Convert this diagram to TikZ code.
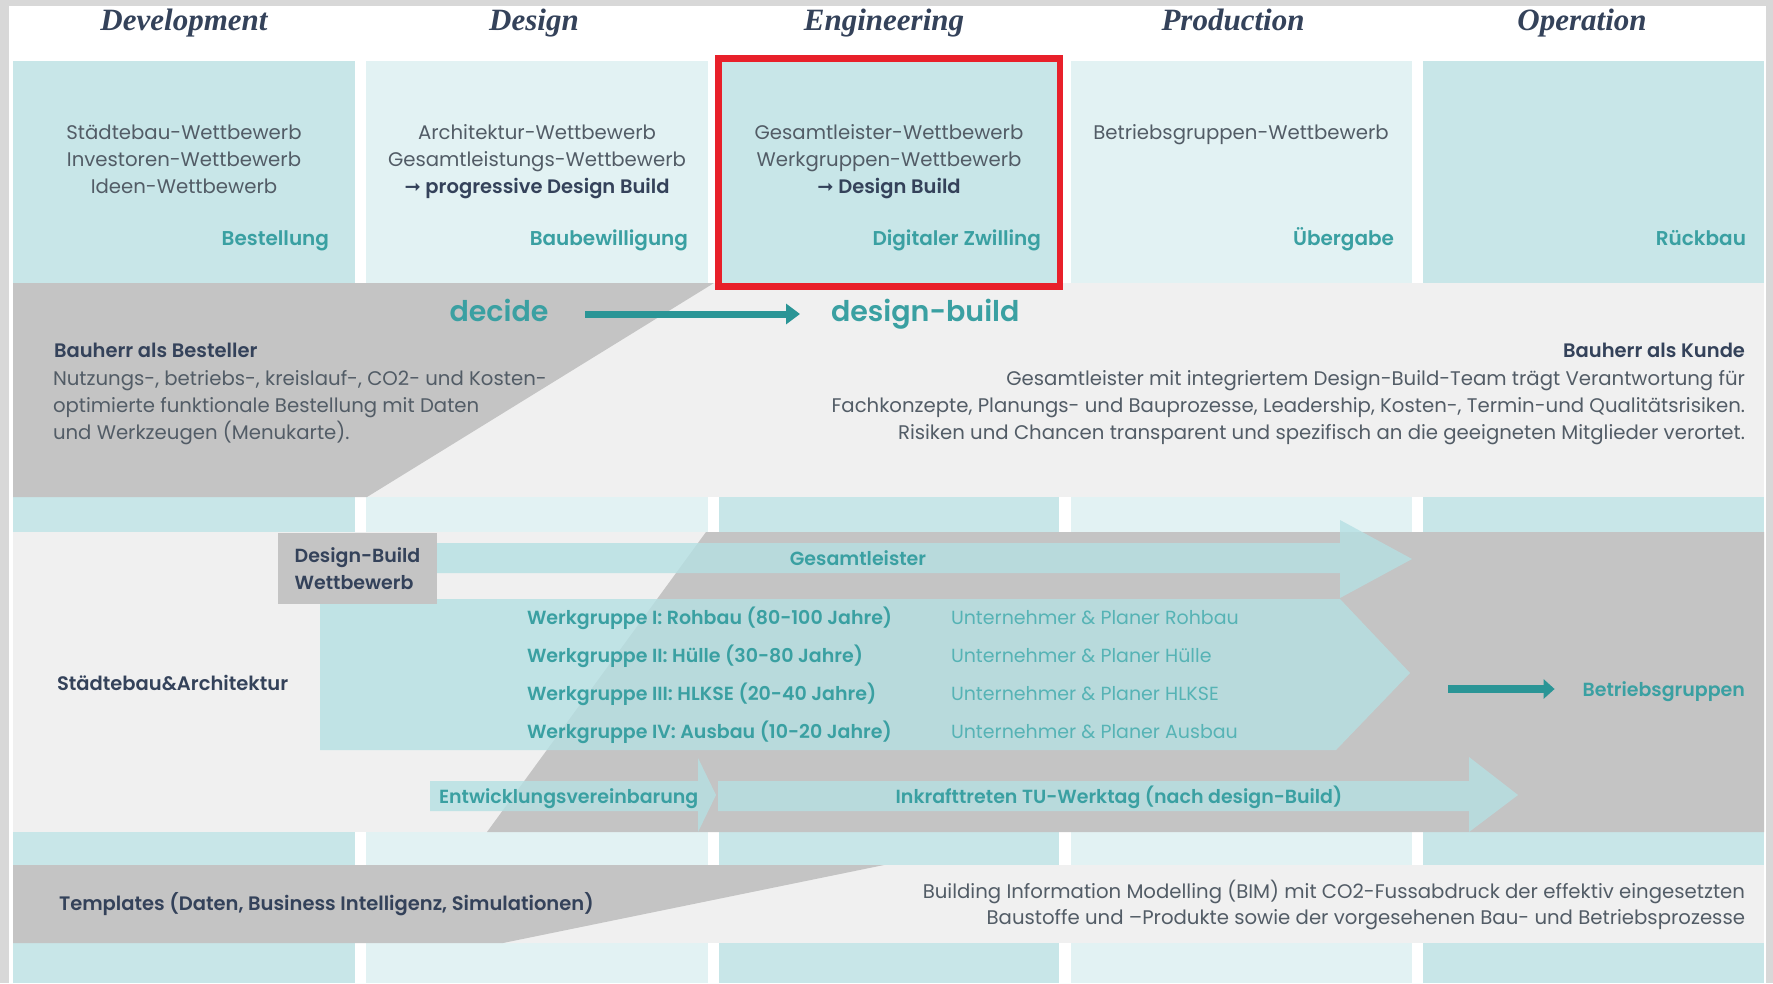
\documentclass[tikz,border=0pt]{standalone}
\usepackage{fontspec}
\setmainfont{Poppins}[BoldFont={Poppins SemiBold}]
\newfontfamily\headfont{Liberation Serif}
\newfontfamily\symfont{DejaVu Sans}
\usetikzlibrary{arrows.meta}

\definecolor{framegray}{HTML}{D8D8D8}
\definecolor{cellA}{HTML}{C8E6E8}
\definecolor{cellB}{HTML}{E2F2F3}
\definecolor{bandgray}{HTML}{C4C4C4}
\definecolor{bandlight}{HTML}{F0F0F0}
\definecolor{tealfill}{HTML}{B5E0E3}
\definecolor{tealtext}{HTML}{3AA0A2}
\definecolor{tealsoft}{HTML}{56B3B5}
\definecolor{tealdark}{HTML}{2A9596}
\definecolor{inkdark}{HTML}{34425A}
\definecolor{inkbody}{HTML}{525C66}
\definecolor{redframe}{HTML}{E8202A}

\begin{document}
\begin{tikzpicture}[x=1pt,y=-1pt,
  every node/.style={inner sep=0pt,outer sep=0pt},
  hdr/.style={font=\headfont\bfseries\itshape\fontsize{31}{32}\selectfont, text=inkdark, anchor=base},
  body/.style={font=\fontsize{19.7}{27}\selectfont, text=inkbody, anchor=base},
  bodyr/.style={body, anchor=base east},
  bodyl/.style={body, anchor=base west},
  lead/.style={font=\bfseries\fontsize{19.5}{27}\selectfont, text=inkdark, anchor=base},
  milestone/.style={font=\bfseries\fontsize{20}{27}\selectfont, text=tealtext, anchor=base east},
  bigteal/.style={font=\bfseries\fontsize{28.5}{30}\selectfont, text=tealtext, text height=21pt, text depth=7pt},
  tealb/.style={font=\bfseries\fontsize{19}{24}\selectfont, text=tealtext, anchor=base},
  teall/.style={font=\fontsize{19}{24}\selectfont, text=tealsoft, anchor=base west},
  flow/.style={fill=tealfill, fill opacity=0.8},
  thickarrow/.style={draw=tealdark, line width=7pt, -{Triangle[length=14pt,width=20pt]}},
  dbbox/.style={fill=bandgray, minimum width=159pt, minimum height=71pt, align=left,
    font=\bfseries\fontsize{19}{27}\selectfont, text=inkdark}
]
\useasboundingbox (0,0) rectangle (1773,983);

% frame and page
\fill[framegray] (0,0) rectangle (1773,983);
\fill[white] (9,6) rectangle (1766,983);

% phase columns (cells and stripes)
\foreach \l/\r/\c in {13/355/cellA, 366/708/cellB, 719/1059/cellA, 1071/1412/cellB, 1423/1764/cellA}{
  \foreach \t/\b in {61/283, 497/532, 832/865, 943/983}{
    \fill[\c] (\l,\t) rectangle (\r,\b);
  }
}

% client band
\fill[bandlight] (13,283) rectangle (1764,497);
\fill[bandgray] (13,283) -- (714,283) -- (367,497) -- (13,497) -- cycle;

% delivery section
\fill[bandlight] (13,532) rectangle (1764,832);
\fill[bandgray] (706,532) -- (1764,532) -- (1764,832) -- (487,832) -- cycle;

% data band
\fill[bandlight] (13,865) rectangle (1764,943);
\fill[bandgray] (13,865) -- (884,865) -- (503,943) -- (13,943) -- cycle;

% flow arrows
\fill[flow] (437,543) -- (1340,543) -- (1340,520) -- (1412,559) -- (1340,598) -- (1340,573) -- (437,573) -- cycle;
\fill[flow] (320,599) -- (1340,599) -- (1410,673) -- (1336,750) -- (320,750) -- cycle;
\fill[flow] (430,781) -- (698,781) -- (698,758) -- (716,795) -- (698,832) -- (698,811) -- (430,811) -- cycle;
\fill[flow] (718,781) -- (1469,781) -- (1469,757) -- (1518,795) -- (1469,832) -- (1469,811) -- (718,811) -- cycle;

% highlighted phase
\draw[redframe, line width=6.5pt] (718.5,58.5) rectangle (1060,286.5);

% phase headings
\node[hdr] (hDev) at (184,30) {Development};
\node[hdr] (hDes) at (534,30) {Design};
\node[hdr] (hEng) at (884,30) {Engineering};
\node[hdr] (hPro) at (1233,30) {Production};
\node[hdr] (hOpe) at (1582,30) {Operation};

% competitions per phase
\node[body] (c1a) at (184,139) {Städtebau-Wettbewerb};
\node[body] (c1b) at (184,166) {Investoren-Wettbewerb};
\node[body] (c1c) at (184,193) {Ideen-Wettbewerb};
\node[body] (c2a) at (537,139) {Architektur-Wettbewerb};
\node[body] (c2b) at (537,166) {Gesamtleistungs-Wettbewerb};
\node[lead] (c2c) at (537,193) {{\symfont\bfseries ➞} progressive Design Build};
\node[body] (c3a) at (889,139) {Gesamtleister-Wettbewerb};
\node[body] (c3b) at (889,166) {Werkgruppen-Wettbewerb};
\node[lead] (c3c) at (889,193) {{\symfont\bfseries ➞} Design Build};
\node[body] (c4a) at (1241,139) {Betriebsgruppen-Wettbewerb};

% milestones
\node[milestone] (m1) at (329,245) {Bestellung};
\node[milestone] (m2) at (688,245) {Baubewilligung};
\node[milestone] (m3) at (1041,245) {Digitaler Zwilling};
\node[milestone] (m4) at (1394,245) {Übergabe};
\node[milestone] (m5) at (1746,245) {Rückbau};

% client roles
\node[bigteal] (decide) at (499,314) {decide};
\node[bigteal, anchor=west] (designbuild) at (831,314) {design-build};
\draw[thickarrow] ([xshift=37pt]decide.east) -- ([xshift=-31pt]designbuild.west);

\node[lead, anchor=base west] (besteller) at (54,357) {Bauherr als Besteller};
\node[bodyl] (b1) at (53,385) {Nutzungs-, betriebs-, kreislauf-, CO2- und Kosten-};
\node[bodyl] (b2) at (53,412) {optimierte funktionale Bestellung mit Daten};
\node[bodyl] (b3) at (53,439) {und Werkzeugen (Menukarte).};

\node[lead, anchor=base east] (kunde) at (1745,357) {Bauherr als Kunde};
\node[bodyr] (k1) at (1745,385) {Gesamtleister mit integriertem Design-Build-Team trägt Verantwortung für};
\node[bodyr] (k2) at (1745,412) {Fachkonzepte, Planungs- und Bauprozesse, Leadership, Kosten-, Termin-und Qualitätsrisiken.};
\node[bodyr] (k3) at (1745,439) {Risiken und Chancen transparent und spezifisch an die geeigneten Mitglieder verortet.};

% delivery model
\node[dbbox] (dbw) at (357.5,568.5) {Design-Build\\Wettbewerb};
\node[tealb] (gl) at (858,565) {Gesamtleister};
\node[tealb, anchor=base west] (w1) at (527,624) {Werkgruppe I: Rohbau (80-100 Jahre)};
\node[tealb, anchor=base west] (w2) at (527,662) {Werkgruppe II: Hülle (30-80 Jahre)};
\node[tealb, anchor=base west] (w3) at (527,700) {Werkgruppe III: HLKSE (20-40 Jahre)};
\node[tealb, anchor=base west] (w4) at (527,738) {Werkgruppe IV: Ausbau (10-20 Jahre)};
\node[teall] (u1) at (951,624) {Unternehmer \& Planer Rohbau};
\node[teall] (u2) at (951,662) {Unternehmer \& Planer Hülle};
\node[teall] (u3) at (951,700) {Unternehmer \& Planer HLKSE};
\node[teall] (u4) at (951,738) {Unternehmer \& Planer Ausbau};
\node[lead, anchor=base west] (sa) at (57,690) {Städtebau\&Architektur};
\node[tealb, anchor=base east] (bg) at (1745,696) {Betriebsgruppen};
\coordinate (bgTail) at (1448,689);
\draw[draw=tealdark, line width=8pt, -{Triangle[length=11pt,width=19pt]}] (bgTail) -- ([xshift=-28pt]bgTail -| bg.west);
\node[tealb, anchor=base west] (ev) at (439,803) {Entwicklungsvereinbarung};
\node[tealb] (tu) at (1119,803) {Inkrafttreten TU-Werktag (nach design-Build)};

% data layer
\node[lead, anchor=base west] (tpl) at (59,910) {Templates (Daten, Business Intelligenz, Simulationen)};
\node[bodyr] (bim1) at (1745,898) {Building Information Modelling (BIM) mit CO2-Fussabdruck der effektiv eingesetzten};
\node[bodyr] (bim2) at (1745,924) {Baustoffe und –Produkte sowie der vorgesehenen Bau- und Betriebsprozesse};
\end{tikzpicture}
\end{document}
